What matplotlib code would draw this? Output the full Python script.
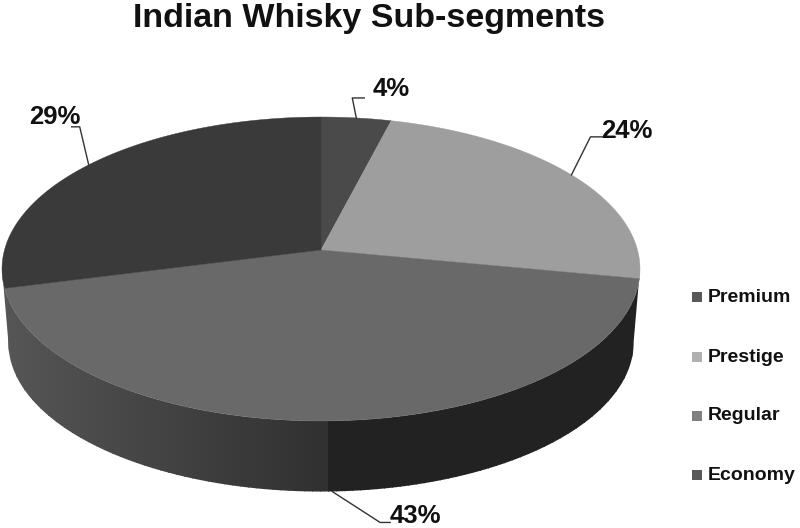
import numpy as np
import matplotlib
matplotlib.use("Agg")
import matplotlib.pyplot as plt
from matplotlib.patches import Polygon

title = "Indian Whisky Sub-segments"
categories = ["Premium", "Prestige", "Regular", "Economy"]
shares = [4, 24, 43, 29]
top_colors = ["#4a4a4a", "#9e9e9e", "#696969", "#3a3a3a"]
legend_colors = ["#585858", "#b0b0b0", "#808080", "#585858"]

plt.rcParams["font.family"] = ["Liberation Sans", "DejaVu Sans"]

# pie geometry in pixels, perspective tilts the disc so the centre is off the middle
cx, cy = 321, 250
rx, ry = 316.5, 149.6
k = 0.125
depth = 74
shrink = 0.98


def rim(theta, s=1.0, dy=0):
    t = np.radians(theta)
    w = 1 + k * np.cos(t)
    x = cx + s * rx * np.sin(t) / w
    y = cy + dy - s * ry * np.cos(t) / w
    return x, y


def side_gray(x):
    g = np.interp(x, [0, 100, 300, 328, 332, 640], [0.34, 0.29, 0.2, 0.19, 0.135, 0.135])
    return str(round(float(g), 3))


fig = plt.figure(figsize=(8, 5.28), dpi=100)
ax = fig.add_axes([0, 0, 1, 1])
ax.set_xlim(0, 800)
ax.set_ylim(528, 0)
ax.axis("off")

# side wall: vertical shading bands clipped to the outline of the front of the disc
th = np.linspace(97, 263, 200)
x1, y1 = rim(th)
x2, y2 = rim(th[::-1], shrink, depth)
wall = Polygon(np.c_[np.r_[x1, x2], np.r_[y1, y2]], closed=True, transform=ax.transData,
               facecolor="none", edgecolor="none")
ax.add_patch(wall)
bands = np.arange(0, 648, 8)
for a, b in zip(bands[:-1], bands[1:]):
    span = ax.axvspan(a, b + 0.5, color=side_gray((a + b) / 2), lw=0)
    span.set_clip_path(wall)

# top slices
ends = np.cumsum(shares) / sum(shares) * 360
starts = np.r_[0, ends[:-1]]
for a, b, c in zip(starts, ends, top_colors):
    th = np.linspace(a, b, 120)
    x, y = rim(th)
    ax.fill(np.r_[cx, x], np.r_[cy, y], color=c, lw=0.3)

# leader lines start at the middle of each slice, percent labels at the far end
mids = (starts + ends) / 2
elbows = [(-4, -20, 12), (19, -38, 25), (48, 31, 10), (-9, -38, -8)]
label_pos = [(373, 89, "left"), (601, 131, "left"), (390, 516, "left"), (80, 117, "right")]
for i, m in enumerate(mids):
    if m > 90 and m < 270:
        x0, y0 = rim(m, shrink, depth)
    else:
        x0, y0 = rim(m)
    ex, ey, run = elbows[i]
    ax.plot([x0, x0 + ex, x0 + ex + run], [y0, y0 + ey, y0 + ey], color="#333333", lw=1)
    lx, ly, ha = label_pos[i]
    ax.text(lx, ly, f"{shares[i]}%", fontsize=18.5, fontweight="bold", ha=ha, va="center", color="#111111")

ax.text(369, 27, title, fontsize=24.5, fontweight="bold", ha="center", va="baseline", color="#111111")

# legend
leg_y = [297, 357, 416, 475]
for name, c, y in zip(categories, legend_colors, leg_y):
    ax.scatter([697], [y], marker="s", s=52, color=c, linewidths=0)
    ax.text(708, y, name, fontsize=14, fontweight="bold", va="center", color="#111111")

fig.savefig("out.png", dpi=100)
